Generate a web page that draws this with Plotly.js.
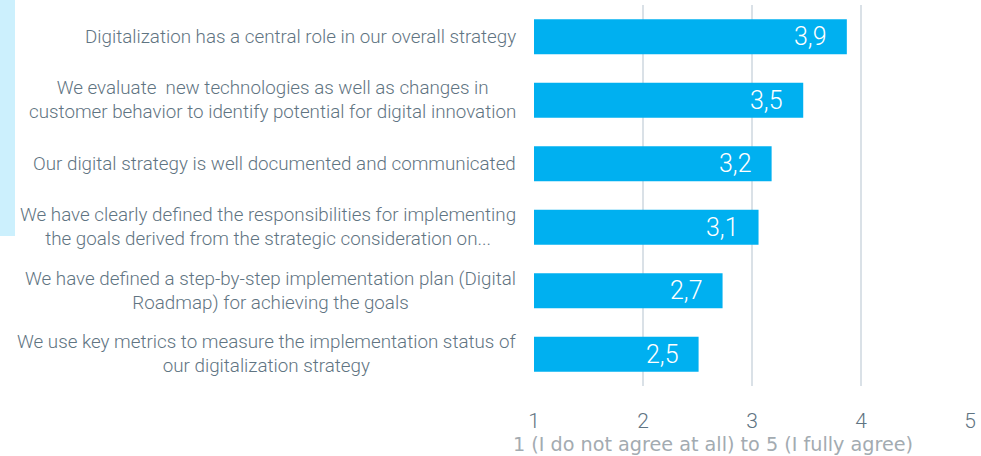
<!DOCTYPE html>
<html>
<head>
<meta charset="utf-8">
<script src="https://cdn.plot.ly/plotly-3.0.1.min.js"></script>
<style>
html,body{margin:0;padding:0;background:#fff;}
#chart{width:981px;height:456px;}
</style>
</head>
<body>
<div id="chart"></div>
<script>
const categories = [
  "Digitalization has a central role in our overall strategy",
  "We evaluate  new technologies as well as changes in<br>customer behavior to identify potential for digital innovation",
  "Our digital strategy is well documented and communicated",
  "We have clearly defined the responsibilities for implementing<br>the goals derived from the strategic consideration on...",
  "We have defined a step-by-step implementation plan (Digital<br>Roadmap) for achieving the goals",
  "We use key metrics to measure the implementation status of<br>our digitalization strategy"
];
const values = [3.87, 3.47, 3.18, 3.06, 2.73, 2.51];
const valueLabels = ["3,9", "3,5", "3,2", "3,1", "2,7", "2,5"];
const tickVals = [1, 2, 3, 4, 5];
const tickText = ["1", "2", "3", "4", "5"];
const axisTitle = "1 (I do not agree at all) to 5 (I fully agree)";

const narrow = 'Roboto, sans-serif';

const trace = {
  type: 'bar',
  orientation: 'h',
  y: categories,
  x: values,
  marker: {color: '#00b0f0'},
  hoverinfo: 'none'
};

const annotations = [];
categories.forEach((c, i) => {
  annotations.push({
    xref: 'paper', yref: 'y', x: 0, y: c, xanchor: 'right', yanchor: 'middle',
    xshift: -16, text: c, showarrow: false, align: 'center',
    font: {family: narrow, size: 18.8, weight: 300, color: '#5f7482'}
  });
  annotations.push({
    xref: 'x', yref: 'y', x: values[i], y: c, xanchor: 'right', yanchor: 'middle',
    xshift: -18, text: valueLabels[i], showarrow: false,
    font: {family: narrow, size: 25, weight: 300, color: '#ffffff'}
  });
});
annotations.push({
  xref: 'paper', yref: 'paper', x: 0.41, y: (386 - 444) / 381, xanchor: 'center', yanchor: 'middle',
  text: axisTitle, showarrow: false,
  font: {family: '"DejaVu Sans", Verdana, sans-serif', size: 19.2, color: '#a3abb1'}
});

const layout = {
  width: 981, height: 456,
  margin: {l: 534, r: 11, t: 5, b: 70, pad: 0},
  paper_bgcolor: '#ffffff', plot_bgcolor: '#ffffff',
  showlegend: false,
  bargap: 0.45,
  xaxis: {
    range: [1, 5], tickvals: tickVals, ticktext: tickText,
    showgrid: true, gridcolor: '#dae1e7', gridwidth: 2,
    zeroline: false, showline: false, ticks: '',
    ticklabelstandoff: 20,
    tickfont: {family: narrow, size: 21, weight: 300, color: '#5f7482'}
  },
  yaxis: {
    type: 'category', autorange: 'reversed',
    showticklabels: false, showgrid: false, zeroline: false, showline: false, ticks: ''
  },
  shapes: [{
    type: 'rect', xref: 'paper', yref: 'paper',
    x0: (0 - 534) / 436, x1: (15 - 534) / 436,
    y0: (386 - 236) / 381, y1: (386 - 0) / 381,
    fillcolor: '#ccf0fd', line: {width: 0}, layer: 'below'
  }],
  annotations: annotations
};

Plotly.newPlot('chart', [trace], layout, {displayModeBar: false, staticPlot: true});
</script>
</body>
</html>
